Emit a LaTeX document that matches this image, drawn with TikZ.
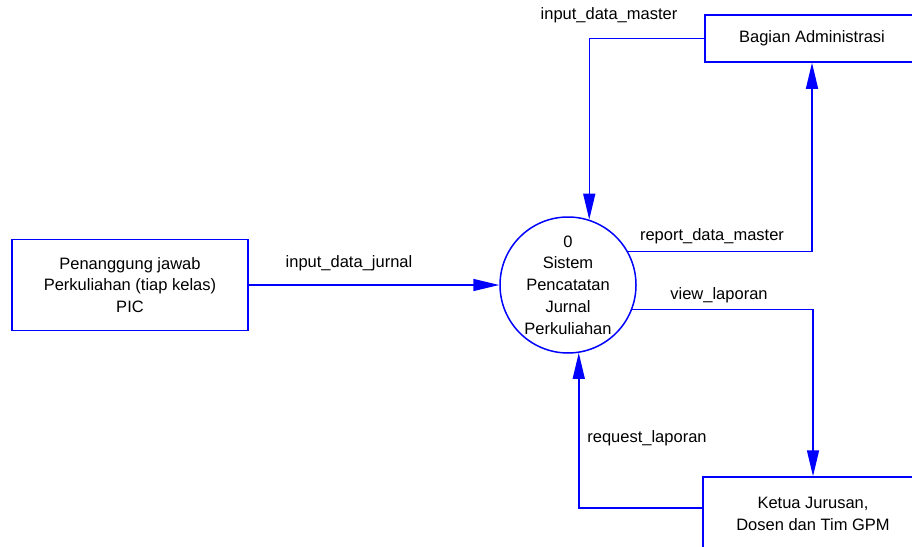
\documentclass[tikz,border=0pt]{standalone}
\usepackage{fontspec}
\setmainfont{Liberation Sans}
\usetikzlibrary{arrows.meta}
\begin{document}
\begin{tikzpicture}[x=1pt,y=-1pt,
  every node/.style={font=\fontsize{16.5}{21.7}\selectfont, text=black},
  entity/.style={draw=blue, line width=1.5pt, rectangle, inner sep=0pt, align=center},
  proc/.style={draw=blue, line width=1.5pt, circle, inner sep=0pt, minimum size=136pt, align=center},
  flow/.style={draw=blue, line width=1.5pt, -{Triangle[width=12pt,length=26pt]}},
  lbl/.style={inner sep=0pt}
]
\useasboundingbox (0,0) rectangle (912,546);
\node[entity, minimum width=236pt, minimum height=91pt] (pic) at (130,285)
  {Penanggung jawab\\Perkuliahan (tiap kelas)\\PIC};
\node[proc] (sys) at (568,285) {0\\Sistem\\Pencatatan\\Jurnal\\Perkuliahan};
\node[entity, minimum width=214pt, minimum height=47pt] (adm) at (812,38.5) {Bagian Administrasi};
\node[entity, minimum width=220pt, minimum height=74pt] (kj) at (813,514) {Ketua Jurusan,\\Dosen dan Tim GPM};

\draw[flow] (pic.east) -- (sys.west);
\draw[flow] (adm.west) -| (sys.72);
\draw[flow] (sys.29) -| (adm.south);
\draw[flow] (sys.-21.6) -| (kj.north);
\draw[flow] ([yshift=6pt]kj.west) -| (sys.-81.5);

\node[lbl] (l1) at (349,263) {input\_data\_jurnal};
\node[lbl] (l2) at (609,15) {input\_data\_master};
\node[lbl] (l3) at (712,236) {report\_data\_master};
\node[lbl] (l4) at (719,295) {view\_laporan};
\node[lbl] (l5) at (647,438) {request\_laporan};
\end{tikzpicture}
\end{document}
